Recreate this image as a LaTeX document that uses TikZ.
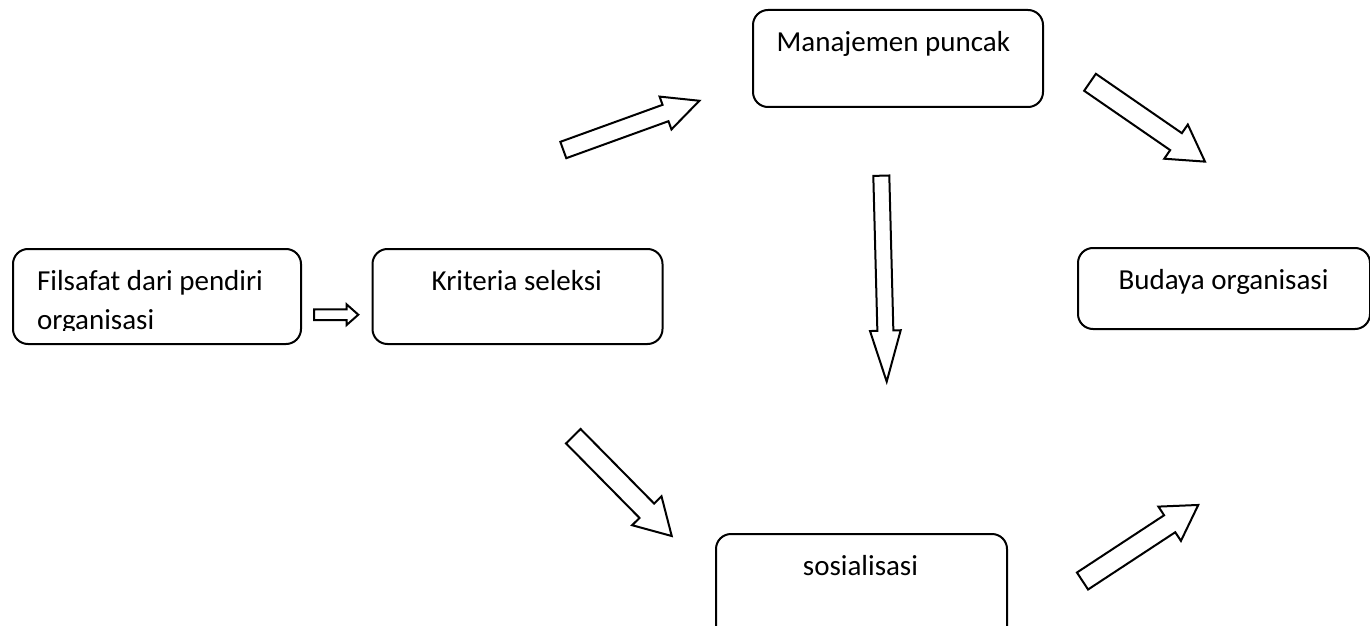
\documentclass[tikz,border=0pt]{standalone}
\usepackage{fontspec}
\setmainfont{Carlito}
\newcommand\blockarr[7]{%
  \begin{scope}[shift={(#1,#2)},rotate=#3]
    \draw[barrow] (0,{-#5/2}) -- ({#4-#7},{-#5/2}) -- ({#4-#7},{-#6/2}) -- (#4,0)
      -- ({#4-#7},{#6/2}) -- ({#4-#7},{#5/2}) -- (0,{#5/2}) -- cycle;
  \end{scope}}
\begin{document}
\begin{tikzpicture}[x=0.5pt,y=-0.5pt,
  box/.style={draw, line width=1pt, rounded corners=7.5pt, inner sep=0pt, anchor=north west},
  lbl/.style={font=\fontsize{14.5pt}{17pt}\selectfont, inner sep=0pt, anchor=base},
  barrow/.style={draw, line width=1pt, fill=white, line join=miter}]
\useasboundingbox (0,0) rectangle (1370,626);
\clip (0,0) rectangle (1370,626);
% boxes
\node[box, minimum width=144pt, minimum height=47.5pt] (fil) at (12,248) {};
\node[box, minimum width=145pt, minimum height=47.5pt] (kri) at (371.5,248) {};
\node[box, minimum width=145pt, minimum height=48.5pt] (man) at (752,9) {};
\node[box, minimum width=146pt, minimum height=40.5pt] (bud) at (1077,247) {};
\node[box, minimum width=145.5pt, minimum height=60pt] (sos) at (715,533) {};
% texts
\begin{scope}
  \clip (12,248) rectangle (300,330);
  \node[lbl, anchor=base west] (filA) at (36.7,290) {Filsafat dari pendiri};
  \node[lbl, anchor=base west] (filB) at (36.7,329.5) {organisasi};
\end{scope}
\node[lbl] (kriT) at (516.7,290) {Kriteria seleksi};
\node[lbl] (manT) at (893.3,51.7) {Manajemen puncak};
\node[lbl] (budT) at (1223.5,289) {Budaya organisasi};
\node[lbl] (sosT) at (860.5,575) {sosialisasi};
% block arrows
\blockarr{314}{314.7}{0}{44.3}{10.7}{20.7}{11.7}
\blockarr{563.3}{150}{19.9}{144.7}{17.4}{34.9}{36}
\blockarr{1090}{82.3}{-34.6}{139.7}{20.6}{41.5}{35.2}
\blockarr{881.3}{175.7}{-88.5}{206}{16}{30.7}{51}
\blockarr{573.3}{436.2}{-45.4}{140.2}{20.5}{41.2}{35.5}
\blockarr{1082.5}{581}{33.3}{138.5}{20.3}{41}{34.2}
\end{tikzpicture}
\end{document}
